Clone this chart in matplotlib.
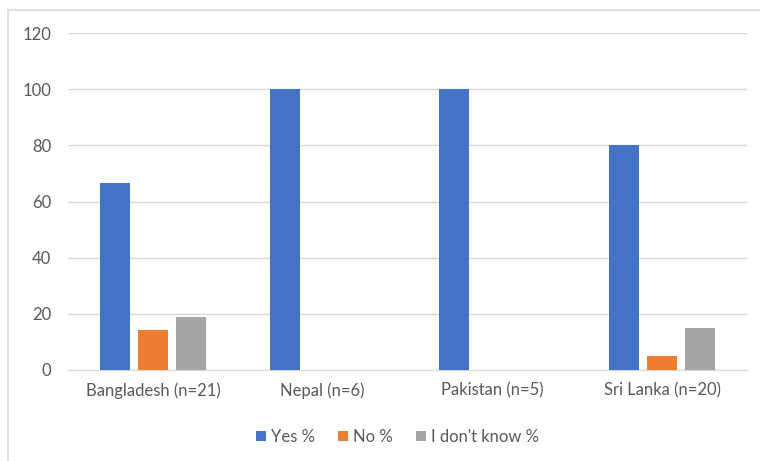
import numpy as np
import matplotlib.pyplot as plt
from matplotlib.lines import Line2D

categories = ['Bangladesh (n=21)', 'Nepal (n=6)', 'Pakistan (n=5)', 'Sri Lanka (n=20)']
yes_pct = [66.7, 100, 100, 80]
no_pct = [14.3, 0, 0, 5]
dont_know_pct = [19.0, 0, 0, 15]

series = [('Yes %', yes_pct, '#4472c4'),
          ('No %', no_pct, '#ed7d31'),
          ("I don't know %", dont_know_pct, '#a5a5a5')]

plt.rcParams['font.family'] = ['Lato', 'DejaVu Sans']

fig = plt.figure(figsize=(7.6, 4.61), dpi=100)
ax = fig.add_axes([0.0895, 0.1974, 0.8935, 0.7306])

x = np.arange(len(categories))
width = 0.177
step = 0.224
for i, (name, vals, color) in enumerate(series):
    ax.bar(x + (i - 1) * step, vals, width, color=color, label=name, zorder=3)

ax.set_xlim(-0.5, len(categories) - 0.5)
ax.set_ylim(0, 120)
ax.set_yticks(range(0, 121, 20))
ax.set_xticks(x)
ax.set_xticklabels(categories)
ax.grid(axis='y', color='#d9d9d9', linewidth=1, zorder=0)
for side in ['top', 'right', 'left']:
    ax.spines[side].set_visible(False)
ax.spines['bottom'].set_color('#d9d9d9')
ax.tick_params(axis='both', length=0, labelsize=12, labelcolor='#595959')
ax.tick_params(axis='y', pad=12)
ax.tick_params(axis='x', pad=9)

ax.legend(loc='upper center', bbox_to_anchor=(0.485, -0.13), ncol=3, frameon=False,
          fontsize=12, labelcolor='#595959', handlelength=0.6, handleheight=0.6,
          handletextpad=0.3, columnspacing=1.4)

# chart frame edges (only top and left fall inside the canvas)
fig.add_artist(Line2D([7.5 / 760, 7.5 / 760], [0, 1 - 10.5 / 461],
                      transform=fig.transFigure, color='#d9d9d9', linewidth=1.2))
fig.add_artist(Line2D([7.5 / 760, 1], [1 - 10.5 / 461, 1 - 10.5 / 461],
                      transform=fig.transFigure, color='#d9d9d9', linewidth=1.2))

fig.savefig('out.png', dpi=100)
